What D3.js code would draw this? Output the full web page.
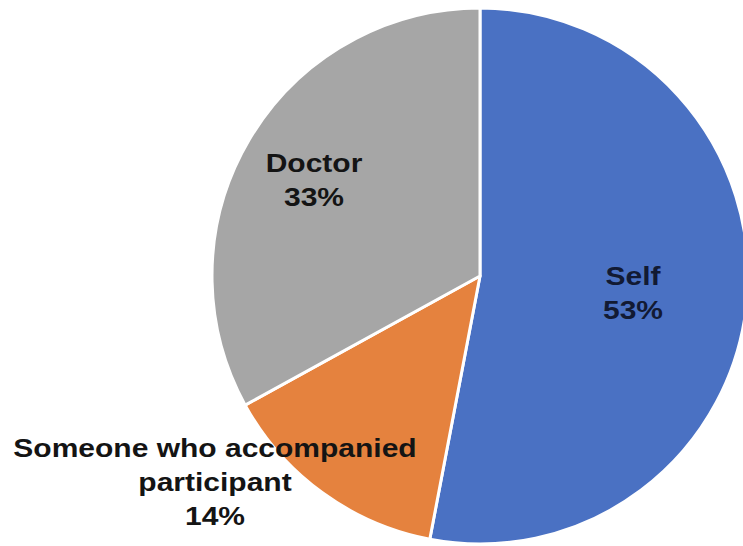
<!DOCTYPE html>
<html>
<head>
<meta charset="utf-8">
<script src="https://cdn.jsdelivr.net/npm/d3@7"></script>
<style>
  html, body { margin: 0; padding: 0; background: #fff; }
  svg { display: block; }
</style>
</head>
<body>
<svg id="chart" width="743" height="546"></svg>
<script>
// Who suggested the test: share of participants
const categories = ["Self", "Someone who accompanied participant", "Doctor"];
const shares = [53, 14, 33];
const sliceColors = ["#4a71c3", "#e5823e", "#a6a6a6"];
// Label lines for each slice (name lines, then the value)
const labelLines = [["Self"], ["Someone who accompanied", "participant"], ["Doctor"]];
const labelPos = [[633, 285], [215, 457], [314, 172]];
const labelInk = ["#121a33", "#141414", "#141414"];

const svg = d3.select("#chart");
const cx = 480, cy = 276, radius = 268;

const data = categories.map((c, i) => ({ name: c, value: shares[i], color: sliceColors[i],
  lines: labelLines[i], pos: labelPos[i], ink: labelInk[i] }));

const pie = d3.pie().sort(null).value(d => d.value).startAngle(0).endAngle(2 * Math.PI);
const arc = d3.arc().innerRadius(0).outerRadius(radius);

const g = svg.append("g").attr("transform", `translate(${cx},${cy})`);
g.selectAll("path")
  .data(pie(data))
  .join("path")
  .attr("d", arc)
  .attr("fill", d => d.data.color)
  .attr("stroke", "#fff")
  .attr("stroke-width", 3)
  .attr("stroke-linejoin", "round");

// Slice labels: name line(s) followed by the percentage
const lineGap = 34;
const labels = svg.append("g")
  .attr("font-family", "'Liberation Sans', Arial, sans-serif")
  .attr("font-weight", "bold")
  .attr("font-size", 25)
  .attr("text-anchor", "middle");

data.forEach(d => {
  const rows = d.lines.concat([d.value + "%"]);
  rows.forEach((t, j) => {
    labels.append("text")
      .attr("transform", `translate(${d.pos[0]},${d.pos[1] + j * lineGap}) scale(1.2,1)`)
      .attr("fill", d.ink)
      .text(t);
  });
});
</script>
</body>
</html>
